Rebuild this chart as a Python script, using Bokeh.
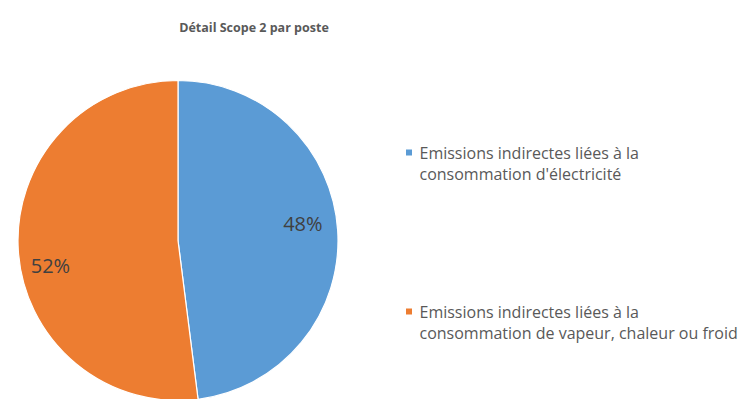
import numpy as np
from bokeh.plotting import figure
from bokeh.models import Range1d
from bokeh.core.properties import value
from bokeh.embed import file_html
from bokeh.resources import INLINE

title = "Détail Scope 2 par poste"
categories = [
    ["Emissions indirectes liées à la", "consommation d'électricité"],
    ["Emissions indirectes liées à la", "consommation de vapeur, chaleur ou froid"],
]
shares = [48, 52]
pct_labels = ["48%", "52%"]
colors = ["#5B9BD5", "#ED7D31"]

W, H = 753, 399
p = figure(width=W, height=H, output_backend="svg", toolbar_location=None,
           x_range=Range1d(0, W), y_range=Range1d(0, H), min_border=0)
p.axis.visible = False
p.grid.visible = False
p.outline_line_color = None
p.background_fill_color = "white"
p.border_fill_color = "white"

cx, cy, R = 177.5, H - 240, 160
vals = np.array(shares, dtype=float)
frac = vals / vals.sum()
ends = np.cumsum(frac)
starts = ends - frac
start_angle = np.pi / 2 - 2 * np.pi * starts
end_angle = np.pi / 2 - 2 * np.pi * ends
p.wedge(x=[cx] * len(vals), y=[cy] * len(vals), radius=R,
        start_angle=list(start_angle), end_angle=list(end_angle),
        direction="clock", fill_color=colors, line_color="white", line_width=1.2)

# percentage labels (inside end, slightly shifted as in the reference)
mid = np.pi / 2 - 2 * np.pi * (starts + frac / 2)
rlab = [126, 130]
dang = [0.072, 0.13]
for i in range(len(vals)):
    a = mid[i] + dang[i]
    lx = cx + rlab[i] * np.cos(a)
    ly = cy + rlab[i] * np.sin(a)
    p.text(x=[lx], y=[ly], text=[pct_labels[i]], text_font=value("Open Sans"),
           text_font_size="20px", text_color="#404040",
           text_align="center", text_baseline="middle")

# title
p.text(x=[253.5], y=[H - 27], text=[title], text_font=value("Open Sans"),
       text_font_size="12.5px", text_font_style="bold", text_color="#595959",
       text_align="center", text_baseline="middle")

# legend
leg_y = [H - 152, H - 311]
for i, lines in enumerate(categories):
    p.rect(x=[408.5], y=[leg_y[i]], width=6, height=6, fill_color=colors[i],
           line_color=None)
    for j, line in enumerate(lines):
        p.text(x=[419], y=[leg_y[i] - 21 * j], text=[line],
               text_font=value("Open Sans"), text_font_size="16px",
               text_color="#595959", text_align="left", text_baseline="middle")

open("out.html", "w").write(file_html(p, INLINE))
